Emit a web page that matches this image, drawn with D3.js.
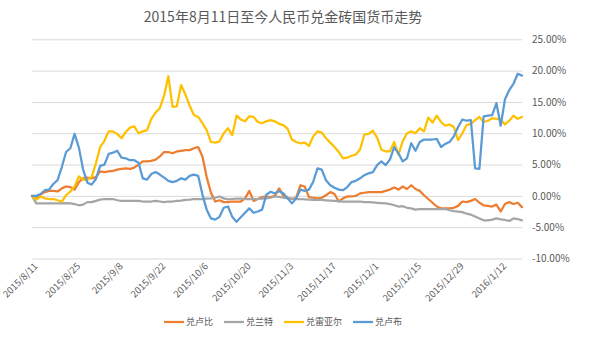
<!DOCTYPE html>
<html>
<head>
<meta charset="utf-8">
<script src="https://cdn.jsdelivr.net/npm/d3@7"></script>
<style>
  body { margin: 0; background: #fff; }
  svg { display: block; }
  text { font-family: "Noto Sans CJK SC", "Noto Sans", sans-serif; fill: #595959; }
</style>
</head>
<body>
<svg id="chart" width="600" height="343"></svg>
<script>
// ---- data -------------------------------------------------------------
const chartTitle = "2015年8月11日至今人民币兑金砖国货币走势";

// trading days (Mon–Fri) starting 2015/8/11
const dayCount = 116;
const categories = [];
for (let d = new Date(2015, 7, 11); categories.length < dayCount; d.setDate(d.getDate() + 1)) {
  const wd = d.getDay();
  if (wd !== 0 && wd !== 6) categories.push(new Date(d));
}
const tickEvery = 10;

const seriesNames  = ["兑卢比", "兑兰特", "兑雷亚尔", "兑卢布"];
const seriesColors = ["#ED7D31", "#A5A5A5", "#FFC000", "#5B9BD5"];

// cumulative change, %
const rupee = [
  0.0,-0.5,0.2,0.6,0.8,0.8,0.7,1.2,1.5,1.4,
  1.0,2.2,2.8,2.9,2.8,3.0,3.9,3.8,3.9,4.0,
  4.2,4.3,4.4,4.3,4.5,5.0,5.5,5.5,5.6,5.8,
  6.3,7.0,7.0,6.8,7.1,7.2,7.3,7.3,7.6,7.8,
  6.3,3.0,0.5,-0.9,-0.7,-1.0,-1.0,-0.9,-0.9,-0.9,
  -0.4,0.8,-0.8,-0.5,-0.2,-0.1,-0.2,0.0,1.2,0.0,
  -0.3,-0.5,-0.3,1.7,1.5,-0.2,-0.3,-0.4,-0.3,0.1,
  0.6,0.3,-0.9,-0.4,-0.1,-0.1,0.0,0.4,0.5,0.6,
  0.6,0.6,0.6,0.8,1.0,1.35,1.0,1.5,1.1,1.7,
  1.1,0.8,0.1,-0.5,-1.1,-1.7,-2.0,-2.0,-2.0,-1.9,
  -1.6,-0.9,-1.0,-0.8,-0.5,-1.1,-1.5,-1.6,-1.7,-1.4,
  -2.5,-1.3,-1.0,-1.3,-1.1,-1.8
];
const rand = [
  0.0,-1.2,-1.2,-1.2,-1.2,-1.2,-1.2,-1.2,-1.15,-1.2,
  -1.3,-1.5,-1.4,-1.0,-1.0,-0.8,-0.6,-0.5,-0.5,-0.5,
  -0.7,-0.8,-0.8,-0.8,-0.8,-0.8,-0.9,-0.9,-0.9,-0.8,
  -0.9,-1.0,-0.9,-0.9,-0.8,-0.75,-0.65,-0.6,-0.5,-0.5,
  -0.5,-0.45,-0.4,-0.3,-0.1,-0.4,-0.55,-0.5,-0.45,-0.45,
  -0.5,-0.5,-0.5,-0.5,-0.45,-0.4,-0.3,-0.1,-0.15,-0.3,
  -0.4,-0.45,-0.5,-0.5,-0.55,-0.6,-0.65,-0.65,-0.65,-0.7,
  -0.75,-0.8,-0.85,-0.9,-0.9,-0.9,-0.9,-0.9,-1.0,-1.0,
  -1.05,-1.1,-1.15,-1.2,-1.3,-1.5,-1.7,-1.65,-1.9,-2.0,
  -2.2,-2.1,-2.1,-2.1,-2.1,-2.1,-2.1,-2.1,-2.3,-2.45,
  -2.5,-2.6,-2.85,-3.0,-3.3,-3.6,-3.9,-3.9,-3.8,-3.6,
  -3.75,-3.85,-4.0,-3.6,-3.7,-3.9
];
const real = [
  0.0,-0.6,-0.1,-0.4,-0.5,-0.5,-0.7,-0.9,0.1,0.7,
  1.5,3.1,2.6,2.55,3.0,5.2,7.8,8.8,10.3,10.3,
  9.9,9.2,10.2,10.9,11.1,10.0,10.3,10.5,12.3,13.3,
  14.0,16.0,19.1,14.2,14.3,17.7,16.2,14.4,12.9,12.6,
  11.6,10.5,8.6,8.5,8.7,10.0,10.8,9.7,12.8,12.2,
  11.9,12.7,12.6,11.8,11.6,11.9,12.1,11.9,11.5,11.3,
  10.7,9.0,8.6,8.4,8.5,8.0,9.5,10.3,10.1,9.2,
  8.5,7.8,7.0,6.0,6.1,6.4,6.6,7.4,9.8,9.9,
  10.4,9.3,7.4,7.1,7.1,8.6,6.6,8.7,10.0,10.3,
  10.0,10.8,10.3,12.5,11.7,12.8,11.8,11.2,11.4,11.0,
  8.9,10.0,11.3,11.5,12.1,12.6,11.8,12.0,12.4,12.3,
  12.2,11.4,12.0,12.8,12.3,12.6
];
const ruble = [
  0.0,0.0,0.3,0.9,1.0,1.9,2.5,4.6,7.0,7.6,
  9.9,7.7,4.2,2.1,1.8,2.7,4.8,5.0,6.7,6.9,
  7.2,6.1,6.0,5.7,5.7,5.3,2.8,2.6,3.5,3.8,
  3.4,2.9,2.4,2.2,2.4,2.8,2.6,3.2,3.4,3.2,
  0.2,-2.2,-3.6,-3.8,-3.35,-1.9,-1.7,-3.35,-4.15,-3.4,
  -2.7,-2.0,-2.7,-2.5,-2.2,0.2,0.65,0.4,0.75,0.4,
  -0.4,-1.2,-0.4,1.0,0.8,1.0,2.25,4.4,4.2,2.5,
  1.7,1.3,1.0,0.9,1.4,2.2,2.4,2.8,3.3,3.6,
  3.8,4.9,5.5,4.9,5.8,7.8,6.8,5.5,6.0,8.4,
  7.2,8.6,9.0,9.0,9.0,9.1,7.8,8.3,8.6,9.5,
  11.0,12.2,12.0,12.1,4.4,4.3,12.7,12.8,12.9,14.8,
  11.2,15.4,16.9,17.9,19.5,19.2
];
const seriesValues = [rupee, rand, real, ruble];

const yTicks = [-10, -5, 0, 5, 10, 15, 20, 25];

// ---- layout -----------------------------------------------------------
const svg = d3.select("#chart");
const plot = { left: 32, right: 522, top: 39.3, bottom: 258.5 };

const x = d3.scaleLinear().domain([0, dayCount - 1]).range([plot.left, plot.right]);
const y = d3.scaleLinear().domain([-10, 25]).range([plot.bottom, plot.top]);

// title
svg.append("text")
  .attr("x", 283).attr("y", 22)
  .attr("text-anchor", "middle")
  .style("font-size", "14px")
  .text(chartTitle);

// value axis on the right, with horizontal gridlines
const yAxis = svg.append("g")
  .attr("transform", `translate(${plot.right},0)`)
  .call(d3.axisRight(y)
    .tickValues(yTicks)
    .tickSize(-(plot.right - plot.left))
    .tickPadding(10)
    .tickFormat(d => d.toFixed(2) + "%"));
yAxis.select(".domain").remove();
yAxis.selectAll(".tick line").attr("stroke", "#D9D9D9").attr("stroke-width", 1);
yAxis.selectAll(".tick text")
  .style("font-size", "10px")
  .style("font-family", "'Noto Sans CJK SC', sans-serif")
  .attr("fill", "#595959");

// category axis: every tenth trading day, rotated labels
const fmtDate = d => `${d.getFullYear()}/${d.getMonth() + 1}/${d.getDate()}`;
const xAxis = svg.append("g")
  .attr("transform", `translate(0,${plot.bottom})`)
  .call(d3.axisBottom(x)
    .tickValues(d3.range(0, dayCount, tickEvery))
    .tickSize(0)
    .tickFormat(i => fmtDate(categories[i])));
xAxis.select(".domain").remove();
xAxis.selectAll(".tick text")
  .attr("x", 0).attr("y", 0).attr("dy", "0.35em")
  .attr("text-anchor", "end")
  .attr("transform", "translate(3.5,6) rotate(-45)")
  .style("font-size", "9.5px")
  .style("font-family", "'Noto Sans CJK SC', sans-serif")
  .attr("fill", "#595959");

// series lines
const line = d3.line()
  .x((d, i) => x(i))
  .y(d => y(d));

svg.append("g")
  .selectAll("path")
  .data(seriesValues)
  .join("path")
  .attr("d", line)
  .attr("fill", "none")
  .attr("stroke", (d, i) => seriesColors[i])
  .attr("stroke-width", 2.25)
  .attr("stroke-linejoin", "round")
  .attr("stroke-linecap", "round");

// legend
const legend = svg.append("g");
const items = legend.selectAll("g")
  .data(seriesNames)
  .join("g");
items.append("line")
  .attr("x1", 0).attr("x2", 20)
  .attr("y1", 0).attr("y2", 0)
  .attr("stroke", (d, i) => seriesColors[i])
  .attr("stroke-width", 2.25);
items.append("text")
  .attr("x", 22).attr("y", 0).attr("dy", "0.35em")
  .style("font-size", "9px")
  .text(d => d);

let cursor = 0;
items.each(function () {
  const w = d3.select(this).select("text").node().getComputedTextLength();
  d3.select(this).attr("transform", `translate(${cursor},0)`);
  cursor += 22 + w + 11;
});
const legendWidth = cursor - 11;
legend.attr("transform", `translate(${283 - legendWidth / 2},322)`);
</script>
</body>
</html>
